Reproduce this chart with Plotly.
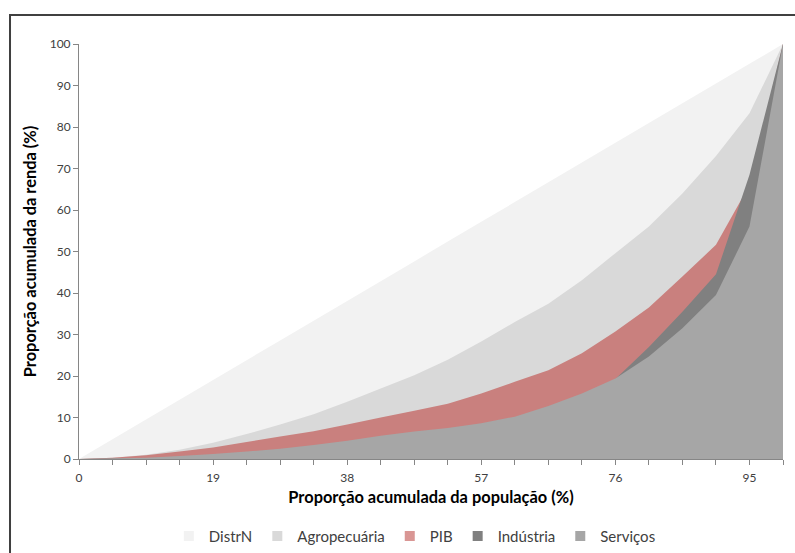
import plotly.graph_objects as go

populacao = [0, 4.76, 9.52, 14.29, 19.05, 23.81, 28.57, 33.33, 38.10, 42.86, 47.62,
             52.38, 57.14, 61.90, 66.67, 71.43, 76.19, 80.95, 85.71, 90.48, 95.24, 100]
tick_labels = ["0", "", "", "", "19", "", "", "", "38", "", "", "", "57", "", "", "",
               "76", "", "", "", "95", ""]

distrN = [0, 4.76, 9.52, 14.29, 19.05, 23.81, 28.57, 33.33, 38.10, 42.86, 47.62,
          52.38, 57.14, 61.90, 66.67, 71.43, 76.19, 80.95, 85.71, 90.48, 95.24, 100]
agropecuaria = [0, 0.3, 1.0, 2.2, 3.9, 6.0, 8.3, 10.8, 13.8, 17.0, 20.2,
                23.9, 28.3, 33.0, 37.4, 43.1, 49.6, 56.0, 64.0, 73.0, 83.3, 100]
pib = [0, 0.3, 0.9, 1.8, 2.8, 4.1, 5.4, 6.7, 8.3, 10.0, 11.6,
       13.3, 15.8, 18.6, 21.4, 25.5, 30.7, 36.5, 44.0, 51.6, 66.0, 100]
industria = [0, 0.1, 0.2, 0.5, 0.9, 1.4, 2.0, 2.8, 3.6, 4.6, 5.5,
             6.5, 7.6, 9.2, 11.5, 14.8, 19.3, 27.0, 35.5, 44.5, 68.5, 100]
servicos = [0, 0.1, 0.3, 0.7, 1.2, 1.8, 2.5, 3.4, 4.4, 5.6, 6.6,
            7.5, 8.6, 10.2, 12.8, 15.8, 19.4, 24.7, 31.5, 39.5, 56.0, 100]

series = [
    ("DistrN", distrN, "#F2F2F2"),
    ("Agropecuária", agropecuaria, "#D9D9D9"),
    ("PIB", pib, "#C9807E"),
    ("Indústria", industria, "#808080"),
    ("Serviços", servicos, "#A6A6A6"),
]
legend_colors = {"DistrN": "#F2F2F2", "Agropecuária": "#D9D9D9", "PIB": "#D99694",
                 "Indústria": "#808080", "Serviços": "#A6A6A6"}

FONT = "Lato"
fig = go.Figure()
for name, vals, color in series:
    fig.add_trace(go.Scatter(
        x=populacao, y=vals, name=name, mode="none",
        fill="tozeroy", fillcolor=color, showlegend=False,
    ))
for name, vals, color in series:
    fig.add_trace(go.Scatter(
        x=[None], y=[None], name=name, mode="markers",
        marker=dict(symbol="square", size=10, color=legend_colors[name]),
        showlegend=True,
    ))

fig.update_layout(
    width=795, height=553,
    margin=dict(l=79, r=12, t=44, b=94, autoexpand=False),
    paper_bgcolor="white", plot_bgcolor="white",
    font=dict(family=FONT, size=12, color="#404040"),
    showlegend=True,
    legend=dict(orientation="h", x=0.477, xanchor="center", y=-0.186, yanchor="middle",
                font=dict(family=FONT, size=15, color="#404040"),
                itemwidth=30, tracegroupgap=0, bgcolor="rgba(0,0,0,0)"),
    xaxis=dict(range=[0, 100], tickmode="array", tickvals=populacao, ticktext=tick_labels,
               ticks="outside", ticklen=5, tickcolor="#868686", showline=True,
               linecolor="#868686", linewidth=1, showgrid=False, zeroline=False,
               automargin=False, ticklabelstandoff=3,
               tickfont=dict(family=FONT, size=12, color="#404040"),
               title=dict(text="<b>Proporção acumulada da população (%)</b>",
                          font=dict(family=FONT, size=16.4, color="black"), standoff=7)),
    yaxis=dict(range=[0, 100], tickmode="linear", tick0=0, dtick=10,
               ticks="outside", ticklen=5, tickcolor="#868686", showline=True,
               linecolor="#868686", linewidth=1, showgrid=False, zeroline=False,
               automargin=False,
               tickfont=dict(family=FONT, size=12, color="#404040"),
               title=dict(text="<b>Proporção acumulada da renda (%)</b>",
                          font=dict(family=FONT, size=16.4, color="black"), standoff=8)),
)

fig.add_shape(type="rect", xref="paper", yref="paper",
              x0=-0.098, x1=1.3, y0=-0.4, y1=1.07,
              line=dict(color="#404040", width=2), fillcolor="rgba(0,0,0,0)", layer="above")

fig.write_html("out.html", config={"displayModeBar": False},
               post_script="document.body.style.margin='0px';")
